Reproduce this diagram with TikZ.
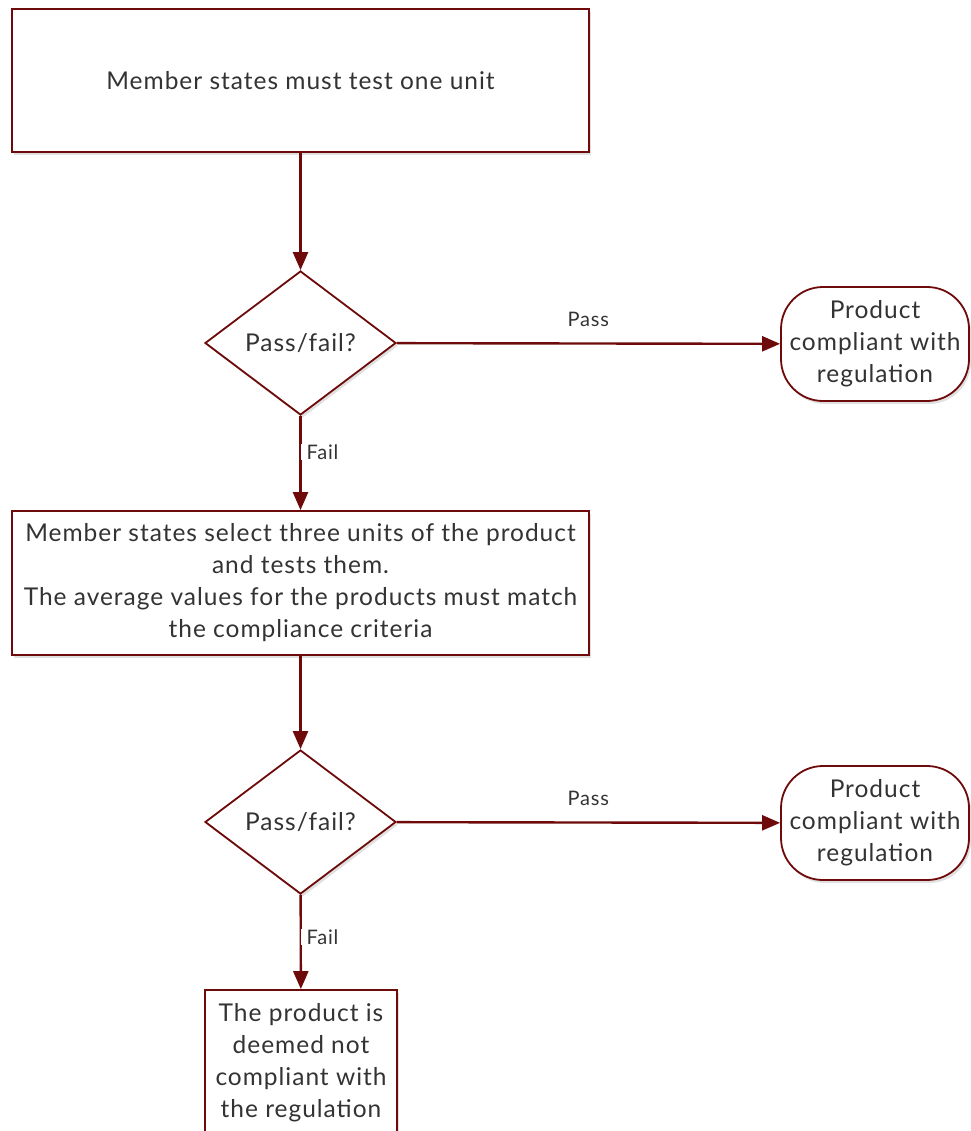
\documentclass[tikz,border=0pt]{standalone}
\usepackage{fontspec}
\setmainfont{Lato}[LetterSpace=4]
\usetikzlibrary{shapes.geometric,arrows.meta,shadows}
\definecolor{dred}{HTML}{6E0A0A}
\definecolor{txt}{HTML}{333333}
\begin{document}
\begin{tikzpicture}[x=1pt,y=-1pt,
  every node/.style={text=txt},
  sh/.style={drop shadow={shadow xshift=2pt,shadow yshift=-3pt,opacity=0.2,fill=black!60}},
  procbox/.style={draw=dred,line width=1.8pt,fill=white,sh,align=center,inner sep=0pt,
     font=\fontsize{24.5}{32}\selectfont},
  decision/.style={diamond,draw=dred,line width=1.8pt,fill=white,sh,inner sep=0pt,
     minimum width=191pt,minimum height=144pt,font=\fontsize{24.5}{32}\selectfont},
  term/.style={draw=dred,line width=1.8pt,fill=white,sh,rounded corners=42pt,align=center,
     minimum width=188pt,minimum height=114pt,inner sep=0pt,font=\fontsize{24.5}{32}\selectfont},
  conn/.style={draw=dred,line width=2.4pt,-{Triangle[length=18pt,width=15pt]}},
  lbl/.style={font=\fontsize{20}{24}\selectfont,text=txt,inner sep=2pt},
]
\useasboundingbox (0,0) rectangle (970,1131);

\node[procbox,minimum width=577pt,minimum height=143pt] (b1) at (300.5,80.5) {Member states must test one unit};
\node[decision] (d1) at (300.5,343) {Pass/fail?};
\node[term] (t1) at (875,344) {Product\\compliant with\\regulation};
\node[procbox,minimum width=577pt,minimum height=144pt] (b2) at (300.5,583) {Member states select three units of the product\\and tests them.\\The average values for the products must match\\the compliance criteria};
\node[decision] (d2) at (300.5,822) {Pass/fail?};
\node[term] (t2) at (875,823) {Product\\compliant with\\regulation};
\node[procbox,minimum width=192pt,minimum height=146pt] (b3) at (301,1063) {The product is\\deemed not\\compliant with\\the regulation};

\draw[conn] (b1) -- (d1);
\draw[conn] (d1) -- node[lbl,pos=0.5,above=14pt] {Pass} (t1);
\draw[conn] (d1) -- (b2);
\draw[conn] (d2) -- node[lbl,pos=0.5,above=14pt] {Pass} (t2);
\draw[conn] (b2) -- (d2);
\draw[conn] (d2) -- (b3);
\node[lbl,fill=white,anchor=west,inner xsep=6pt,inner ysep=1pt] (f1) at (300.5,452) {Fail};
\node[lbl,fill=white,anchor=west,inner xsep=6pt,inner ysep=1pt] (f2) at (300.5,937) {Fail};
\end{tikzpicture}
\end{document}
